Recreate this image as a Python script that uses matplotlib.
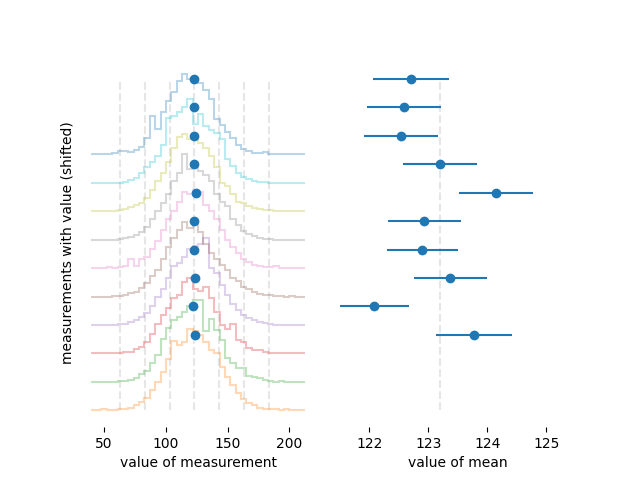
import numpy as np
import matplotlib
matplotlib.use("Agg")
import matplotlib.pyplot as plt

# histogram counts for each experiment (bottom to top), 40 bins between 39.4 and 213.0
counts = [
    [0,0,1,0,0,1,2,3,6,9,13,22,30,40,54,73,69,72,86,84,79,72,64,60,46,35,27,18,12,8,6,3,2,1,1,0,1,0,0,0],
    [0,0,0,0,0,1,1,2,4,8,12,20,28,45,57,65,68,74,80,86,86,54,66,55,44,25,20,15,15,6,5,4,2,1,0,1,0,0,0,0],
    [1,0,0,1,0,1,2,2,5,7,12,20,31,40,48,58,62,75,80,68,66,70,58,44,30,26,31,14,12,6,4,4,2,1,1,0,1,0,0,0],
    [0,0,0,0,0,1,1,3,5,8,13,20,30,38,50,62,65,72,80,83,85,92,60,55,42,32,22,16,10,7,5,3,2,1,0,0,0,0,0,0],
    [0,0,0,0,1,1,2,4,5,9,14,22,28,40,52,62,70,78,72,80,68,55,46,40,33,28,19,16,10,8,5,3,2,2,1,1,0,1,0,0],
    [0,0,0,1,0,1,2,10,2,10,12,20,28,40,52,60,70,80,78,82,80,66,60,52,40,30,22,16,10,6,3,2,1,1,2,0,0,0,0,0],
    [0,0,0,0,0,1,2,3,5,8,13,22,30,38,48,62,70,90,74,80,72,68,62,48,40,35,22,15,9,6,4,2,1,1,0,0,0,0,0,0],
    [0,0,0,0,0,1,2,4,6,9,14,22,32,40,52,66,78,81,76,80,72,66,58,46,30,26,18,10,8,5,3,2,1,1,0,0,0,0,0,0],
    [0,0,0,0,0,0,1,3,5,10,16,22,28,40,68,70,74,80,88,62,72,60,55,52,46,25,17,10,6,4,2,1,1,0,0,0,0,0,0,0],
    [0,0,0,0,1,3,3,2,4,7,17,40,26,44,56,65,77,84,79,80,75,68,58,37,31,23,17,10,5,3,1,1,2,0,0,0,0,0,0,0],
]
bin_lo, bin_hi = 39.4, 213.0

# mean and standard error of each experiment (bottom to top)
means = [123.77, 122.08, 123.37, 122.90, 122.93, 124.15, 123.20, 122.54, 122.59, 122.71]
errors = [0.64, 0.60, 0.62, 0.60, 0.62, 0.63, 0.63, 0.63, 0.63, 0.64]

true_mean = 123.2
sigma = 20.1
shift = 30
dot_offset = 79.5

fig, (ax1, ax2) = plt.subplots(1, 2, sharey=True, figsize=(6.4, 4.8), dpi=100,
                               gridspec_kw=dict(wspace=0.1))

edges = np.linspace(bin_lo, bin_hi, len(counts[0]) + 1)
top = shift * (len(counts) - 1) + dot_offset - 3

# dashed reference lines at the true mean +/- k sigma
for k in range(-3, 4):
    ax1.vlines(true_mean + k * sigma, 0, top, color='0.9', linestyle='--', zorder=0)
ax2.vlines(true_mean, 0, top, color='0.9', linestyle='--', zorder=0)

for i, c in enumerate(counts):
    ax1.stairs(np.array(c) + shift * i, edges, baseline=None,
               color=f"C{(i + 1) % 10}", alpha=0.3, lw=1.5)
    ax1.plot(means[i], shift * i + dot_offset, 'o', color='C0')
    ax2.errorbar(means[i], shift * i + dot_offset, xerr=errors[i], fmt='o', color='C0')

ax2.set_xlim(121.5, 125.5)
ax2.set_xticks([122, 123, 124, 125])
ax1.set_xticks([50, 100, 150, 200])

for ax in (ax1, ax2):
    for s in ax.spines.values():
        s.set_visible(False)
    ax.tick_params(axis='y', left=False, labelleft=False)

ax1.set_xlabel("value of measurement")
ax2.set_xlabel("value of mean")
ax1.set_ylabel("measurements with value (shifted)")

fig.savefig("out.png")
